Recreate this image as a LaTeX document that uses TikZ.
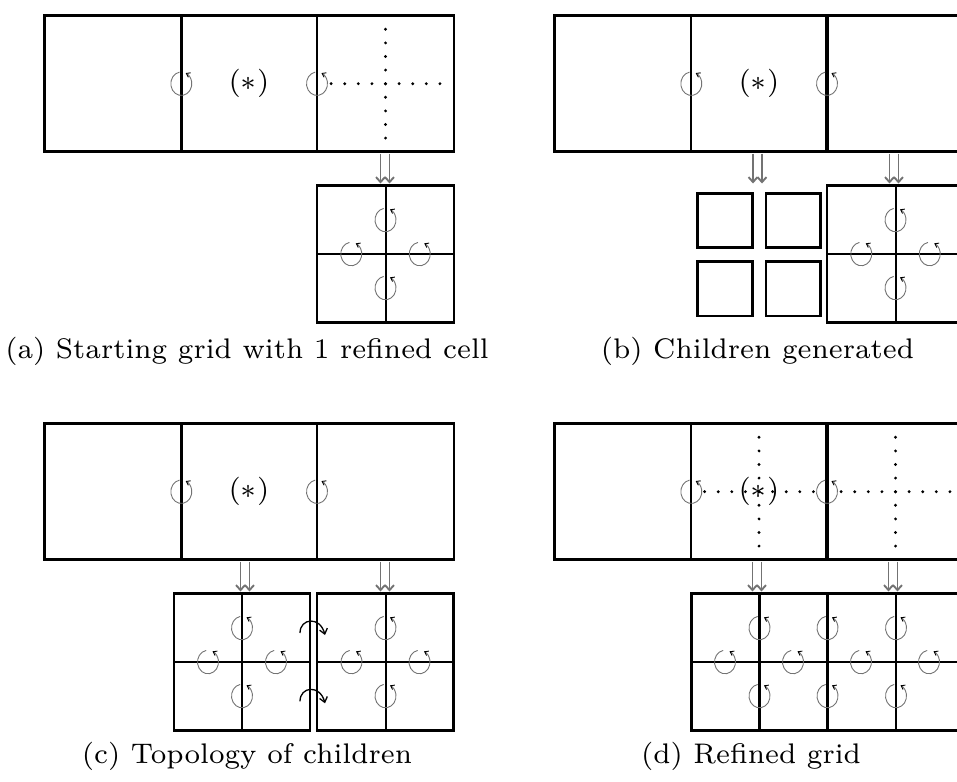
\documentclass[tikz,border=0pt]{standalone}
\usepackage{amsmath}
\usepackage{graphicx}
\usetikzlibrary{arrows.meta}
\definecolor{cgray}{gray}{0.45}
\newcommand\bigtxt[1]{\scalebox{3.92}[4.05]{\fontsize{7}{8}\selectfont #1}}
\tikzset{
  frame/.style={line width=2.7pt},
  thickln/.style={line width=3.3pt},
  thinln/.style={line width=2pt},
  smallbox/.style={line width=2.5pt},
  dbl/.style={draw=cgray,line width=1.9pt,-{Straight Barb[length=5pt,width=9pt]}},
  hop/.style={line width=1.3pt,-{Straight Barb[length=5pt,width=8pt]}},
  captxt/.style={anchor=base,inner sep=0pt},
  mathlbl/.style={inner sep=0pt},
  circarrow/.pic={
    \draw[draw=cgray,line width=0.9pt,yscale=-1,-{Straight Barb[length=3.5pt,width=5pt,color=black]}]
      (100:10.5 and 11.75) arc[start angle=100,end angle=425,x radius=10.5,y radius=11.75];
  }
}
\newcommand\topgrid[2]{%
  \draw[frame] (44.7,15.7) rectangle (454,151.7);
  \draw[#1] (181.3,15.7) -- (181.3,151.7);
  \draw[#2] (317,15.7) -- (317,151.7);
  \pic at (181.3,83.7) {circarrow};
  \pic at (317,83.7) {circarrow};}
\newcommand\dotcross[2]{%
  \foreach \i in {-4,...,4}{%
    \fill (#1+13.6*\i,#2) circle[radius=1.6];
    \fill (#1,#2+13.6*\i) circle[radius=1.6];}}
\newcommand\downpair[1]{%
  \coordinate (pl) at (#1-4.5,153.5);
  \coordinate (pr) at (#1+4.5,153.5);
  \coordinate (ql) at (#1-4.5,183.5);
  \coordinate (qr) at (#1+4.5,183.5);
  \draw[dbl] (pl) -- (ql);
  \draw[dbl] (pr) -- (qr);}
\newcommand\quadmarks[2]{% centre x of box, half quarter
  \pic at (#1,220) {circarrow};
  \pic at (#1-#2,254) {circarrow};
  \pic at (#1+#2,254) {circarrow};
  \pic at (#1,288) {circarrow};}
\begin{document}
\begin{tikzpicture}[x=1pt,y=-1pt]
\useasboundingbox (0,0) rectangle (957,781);
\clip (0,0) rectangle (957,781);

% ---------------- (a)
\begin{scope}
  \topgrid{thickln}{thinln}
  \node[mathlbl] (stara) at (249,83.7) {\bigtxt{$(*)$}};
  \dotcross{385.5}{83.7}
  \draw[frame] (317,185.7) rectangle (454,322.3);
  \draw[thinln] (385.5,185.7) -- (385.5,322.3);
  \draw[frame] (317,254) -- (454,254);
  \quadmarks{385.5}{34.25}
  \downpair{385}
  \node[captxt] (capa) at (247,358) {\bigtxt{(a) Starting grid with 1 refined cell}};
\end{scope}

% ---------------- (b)
\begin{scope}[shift={(510,0)}]
  \topgrid{thinln}{thickln}
  \node[mathlbl] (starb) at (249,83.7) {\bigtxt{$(*)$}};
  \draw[smallbox] (187.3,193.3) rectangle (242.7,247.7);
  \draw[smallbox] (256,193.3) rectangle (310.7,247.7);
  \draw[smallbox] (187.3,261.7) rectangle (242.7,316);
  \draw[smallbox] (256,261.7) rectangle (310.7,316);
  \draw[frame] (317,185.7) rectangle (454,322.3);
  \draw[thinln] (385.5,185.7) -- (385.5,322.3);
  \draw[frame] (317,254) -- (454,254);
  \quadmarks{385.5}{34.25}
  \downpair{247.5}
  \downpair{384}
  \node[captxt] (capb) at (247.5,358) {\bigtxt{(b) Children generated}};
\end{scope}

% ---------------- (c)
\begin{scope}[shift={(0,408)}]
  \topgrid{thickln}{thinln}
  \node[mathlbl] (starc) at (249,83.7) {\bigtxt{$(*)$}};
  \draw[frame] (174,185.7) rectangle (310,322.3);
  \draw[thinln] (242,185.7) -- (242,322.3);
  \draw[frame] (174,254) -- (310,254);
  \quadmarks{242}{34}
  \draw[frame] (317,185.7) rectangle (453.5,322.3);
  \draw[thinln] (385.5,185.7) -- (385.5,322.3);
  \draw[frame] (317,254) -- (453.5,254);
  \quadmarks{385.5}{34}
  \coordinate (h1a) at (300,225);
  \coordinate (h1b) at (325,227);
  \coordinate (h2a) at (300,293.3);
  \coordinate (h2b) at (325,295.3);
  \draw[hop] (h1a) .. controls (300,210) and (320,208) .. (h1b);
  \draw[hop] (h2a) .. controls (300,278.3) and (320,276.3) .. (h2b);
  \downpair{245}
  \downpair{385}
  \node[captxt] (capc) at (247,355) {\bigtxt{(c) Topology of children}};
\end{scope}

% ---------------- (d)
\begin{scope}[shift={(510,408)}]
  \topgrid{thinln}{thickln}
  \node[mathlbl] (stard) at (249,83.7) {\bigtxt{$(*)$}};
  \dotcross{249}{83.7}
  \dotcross{385.5}{83.7}
  \draw[frame] (181.7,185.7) rectangle (470,322.3);
  \draw[thickln] (249.5,185.7) -- (249.5,322.3);
  \draw[thickln] (317.5,185.7) -- (317.5,322.3);
  \draw[thinln] (386,185.7) -- (386,322.3);
  \draw[frame] (181.7,254) -- (470,254);
  \pic at (249.5,220) {circarrow};
  \pic at (317.5,220) {circarrow};
  \pic at (386,220) {circarrow};
  \pic at (215,254) {circarrow};
  \pic at (283,254) {circarrow};
  \pic at (351,254) {circarrow};
  \pic at (419,254) {circarrow};
  \pic at (249.5,288) {circarrow};
  \pic at (317.5,288) {circarrow};
  \pic at (386,288) {circarrow};
  \downpair{247}
  \downpair{383}
  \node[captxt] (capd) at (241,355) {\bigtxt{(d) Refined grid}};
\end{scope}
\end{tikzpicture}
\end{document}
